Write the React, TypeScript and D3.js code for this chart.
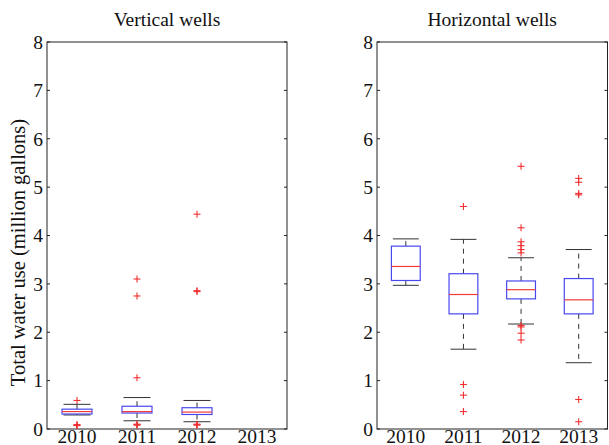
import React from "react";
import * as d3 from "d3";

const categories = ["2010", "2011", "2012", "2013"];
const yTicks = [0, 1, 2, 3, 4, 5, 6, 7, 8];

// Vertical wells (2013 has no data)
const vertQ1: (number | null)[] = [0.31, 0.33, 0.3, null];
const vertMedian: (number | null)[] = [0.36, 0.36, 0.35, null];
const vertQ3: (number | null)[] = [0.41, 0.47, 0.44, null];
const vertLowWhisker: (number | null)[] = [0.29, 0.17, 0.15, null];
const vertHighWhisker: (number | null)[] = [0.51, 0.65, 0.59, null];
const vertOutliers: number[][] = [
  [0.59, 0.08, 0.07, 0.09],
  [3.1, 2.75, 1.06, 0.09, 0.08, 0.1],
  [4.44, 2.86, 2.84, 0.09, 0.08, 0.1],
  [],
];

// Horizontal wells
const horQ1: (number | null)[] = [3.07, 2.38, 2.69, 2.38];
const horMedian: (number | null)[] = [3.36, 2.78, 2.88, 2.67];
const horQ3: (number | null)[] = [3.78, 3.21, 3.06, 3.11];
const horLowWhisker: (number | null)[] = [2.97, 1.65, 2.17, 1.37];
const horHighWhisker: (number | null)[] = [3.93, 3.92, 3.54, 3.71];
const horOutliers: number[][] = [
  [],
  [4.6, 0.92, 0.7, 0.36],
  [5.43, 4.16, 3.87, 3.79, 3.71, 3.64, 2.14, 2.11, 1.98, 1.84],
  [5.18, 5.1, 4.87, 4.84, 0.61, 0.15],
];

const W = 609;
const H = 445;
const FONT = "Liberation Serif";

type PanelProps = {
  title: string;
  x0: number;
  x1: number;
  q1: (number | null)[];
  med: (number | null)[];
  q3: (number | null)[];
  lw: (number | null)[];
  hw: (number | null)[];
  outliers: number[][];
};

const yScale = d3.scaleLinear().domain([0, 8]).range([429, 42]);

function Panel({ title, x0, x1, q1, med, q3, lw, hw, outliers }: PanelProps) {
  const x = d3.scaleBand<string>().domain(categories).range([x0, x1]).padding(0);
  const bw = x.bandwidth() * 0.5;
  const capW = bw * 0.45;
  const top = yScale(8);
  const bottom = yScale(0);
  const axisColor = "#222";
  const textStyle = { fontFamily: FONT };
  return (
    <g>
      <text x={(x0 + x1) / 2} y={26} textAnchor="middle" style={textStyle} fontSize={19.5} fill="#111">
        {title}
      </text>
      <rect x={x0} y={top} width={x1 - x0} height={bottom - top} fill="none" stroke={axisColor} strokeWidth={1} />
      {yTicks.map((t) => (
        <g key={t}>
          <line x1={x0} x2={x0 + 3} y1={yScale(t)} y2={yScale(t)} stroke={axisColor} />
          <line x1={x1 - 3} x2={x1} y1={yScale(t)} y2={yScale(t)} stroke={axisColor} />
          <text x={x0 - 4} y={yScale(t)} dy="0.35em" textAnchor="end" style={textStyle} fontSize={19.5} fill="#111">
            {t}
          </text>
        </g>
      ))}
      {categories.map((c) => (
        <text key={c} x={(x(c) as number) + x.bandwidth() / 2} y={442.5} textAnchor="middle" style={textStyle} fontSize={19.5} fill="#111">
          {c}
        </text>
      ))}
      {categories.map((c, i) => {
        const cx = (x(c) as number) + x.bandwidth() / 2;
        const a = q1[i], m = med[i], b = q3[i], l = lw[i], h = hw[i];
        return (
          <g key={"b" + c}>
            {a !== null && b !== null && m !== null && l !== null && h !== null && (
              <g>
                <line x1={cx} x2={cx} y1={yScale(b)} y2={yScale(h)} stroke="#333" strokeDasharray="5,5" />
                <line x1={cx} x2={cx} y1={yScale(a)} y2={yScale(l)} stroke="#333" strokeDasharray="5,5" />
                <line x1={cx - capW} x2={cx + capW} y1={yScale(h)} y2={yScale(h)} stroke="#333" />
                <line x1={cx - capW} x2={cx + capW} y1={yScale(l)} y2={yScale(l)} stroke="#333" />
                <rect x={cx - bw / 2} y={yScale(b)} width={bw} height={yScale(a) - yScale(b)} fill="none" stroke="#4848f0" strokeWidth={1.2} />
                <line x1={cx - bw / 2} x2={cx + bw / 2} y1={yScale(m)} y2={yScale(m)} stroke="#f03c3c" strokeWidth={1.2} />
              </g>
            )}
            {outliers[i].map((v, k) => (
              <g key={k} stroke="#f03030" strokeWidth={1.1}>
                <line x1={cx - 3.5} x2={cx + 3.5} y1={yScale(v)} y2={yScale(v)} />
                <line x1={cx} x2={cx} y1={yScale(v) - 3.5} y2={yScale(v) + 3.5} />
              </g>
            ))}
          </g>
        );
      })}
    </g>
  );
}

export default function App() {
  return (
    <svg width={W} height={H} style={{ position: "absolute", left: 0, top: 0, background: "#fff" }}>
      <rect width={W} height={H} fill="#fff" />
      <text
        transform={`translate(18,252.5) rotate(-90)`}
        textAnchor="middle"
        dy="0.35em"
        style={{ fontFamily: FONT }}
        fontSize={20.5}
        fill="#111"
      >
        Total water use (million gallons)
      </text>
      <Panel title="Vertical wells" x0={47} x1={287} q1={vertQ1} med={vertMedian} q3={vertQ3} lw={vertLowWhisker} hw={vertHighWhisker} outliers={vertOutliers} />
      <Panel title="Horizontal wells" x0={377} x1={607.5} q1={horQ1} med={horMedian} q3={horQ3} lw={horLowWhisker} hw={horHighWhisker} outliers={horOutliers} />
    </svg>
  );
}
